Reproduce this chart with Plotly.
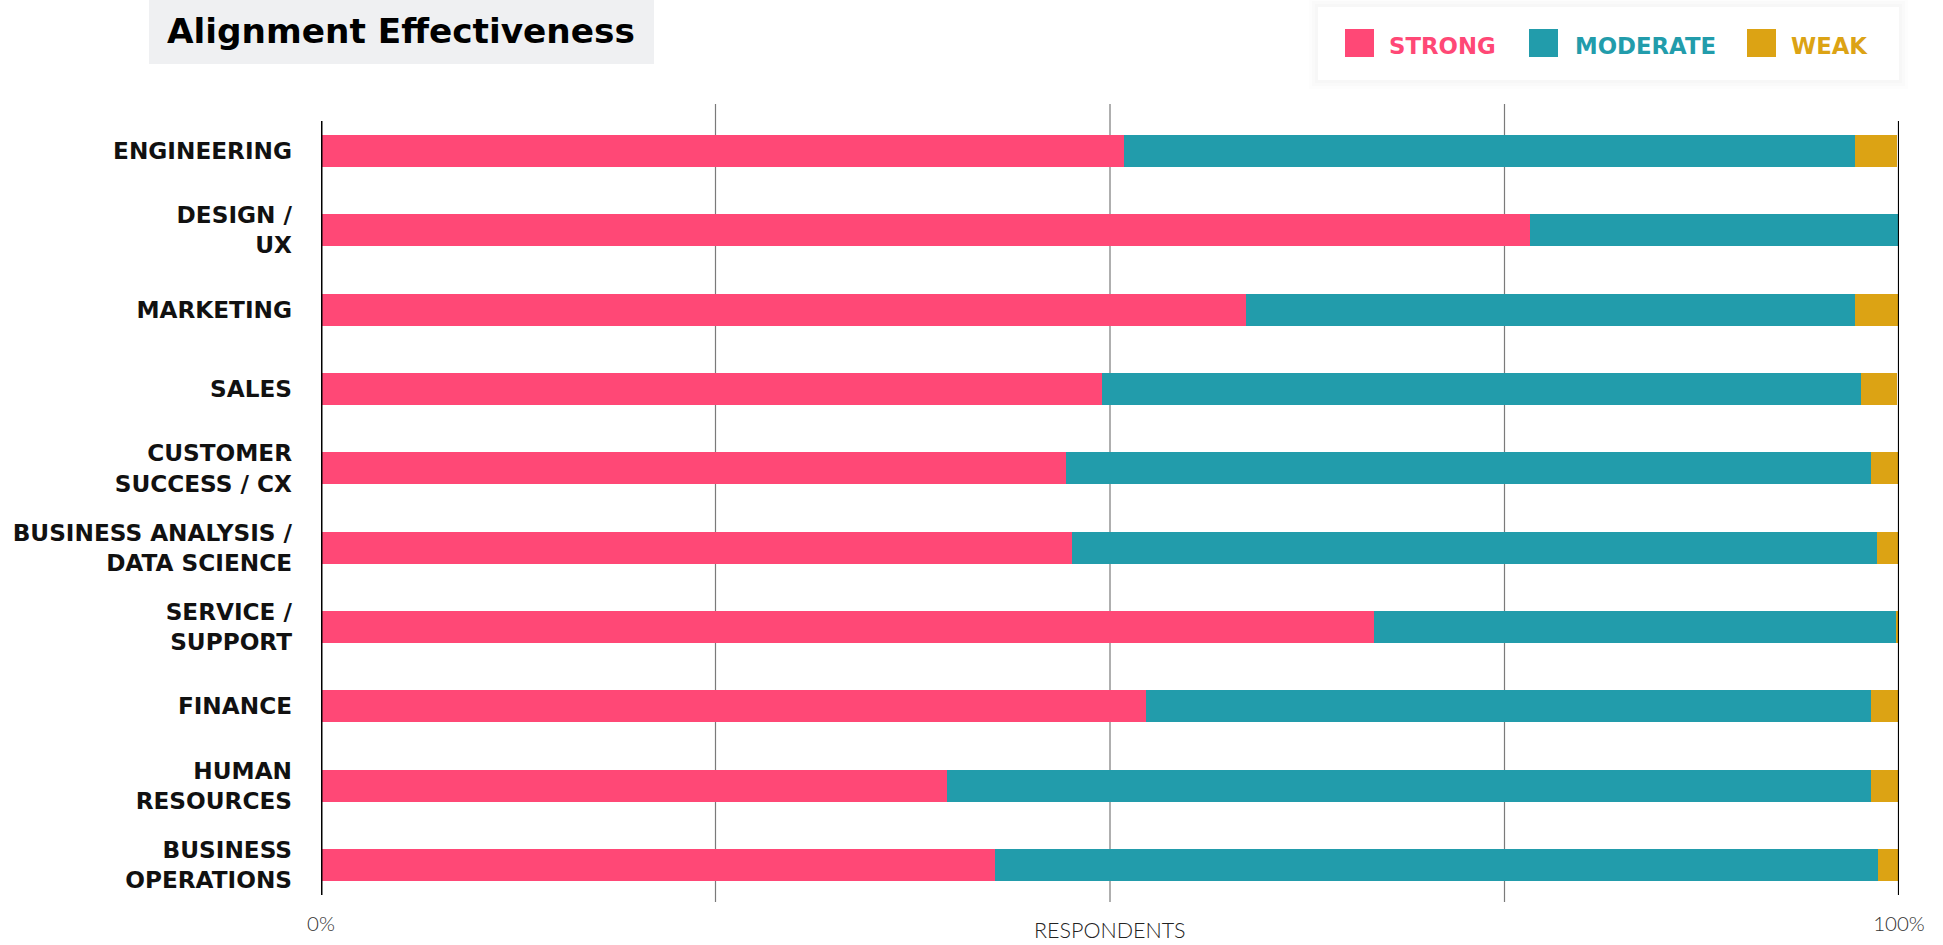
import plotly.graph_objects as go

# ---- data -------------------------------------------------------------
categories = [
    "ENGINEERING",
    "DESIGN /<br>UX",
    "MARKETING",
    "SALES",
    "CUSTOMER<br>SUCCESS / CX",
    "BUSINESS ANALYSIS /<br>DATA SCIENCE",
    "SERVICE /<br>SUPPORT",
    "FINANCE",
    "HUMAN<br>RESOURCES",
    "BUSINESS<br>OPERATIONS",
]
strong = [50.9, 76.6, 58.6, 49.5, 47.2, 47.6, 66.7, 52.3, 39.7, 42.7]
moderate = [46.3, 23.4, 38.6, 48.1, 51.0, 51.0, 33.1, 45.9, 58.5, 56.0]
weak = [2.7, 0.0, 2.8, 2.3, 1.8, 1.4, 0.2, 1.8, 1.8, 1.3]

series_names = ["STRONG", "MODERATE", "WEAK"]
series_values = [strong, moderate, weak]
series_colors = ["#FF4876", "#229CAB", "#DCA314"]

x_tick_vals = [0, 100]
x_tick_text = ["0%", "100%"]
grid_vals = [25, 50, 75]

# ---- page geometry (pixels) -------------------------------------------
W, H = 1943, 945
L, R, T, B = 321, 44, 104, 43
PW, PH = W - L - R, H - T - B


def px_x(x):
    return (x - L) / PW


def px_y(y):
    return (H - B - y) / PH


BOLD = "DejaVu Sans"
LIGHT = "Lato"

fig = go.Figure()
for name, vals, col in zip(series_names, series_values, series_colors):
    fig.add_trace(go.Bar(
        y=categories, x=vals, name=name, orientation="h",
        marker=dict(color=col, line=dict(width=0)),
        width=0.4, showlegend=False,
        hovertemplate="%{y}: %{x}%<extra>" + name + "</extra>",
    ))

shapes = []
# vertical grid lines behind the bars
for g in grid_vals:
    shapes.append(dict(type="line", xref="x", yref="paper", x0=g, x1=g,
                       y0=0, y1=1, line=dict(color="#7a7a7a", width=1.2),
                       layer="below"))
# 0% and 100% boundary lines
for v, w in zip(x_tick_vals, [3, 2.2]):
    shapes.append(dict(type="line", xref="x", yref="paper", x0=v, x1=v,
                       y0=px_y(895), y1=px_y(121),
                       line=dict(color="#000000", width=w), layer="above"))

# title box
shapes.append(dict(type="rect", xref="paper", yref="paper",
                   x0=px_x(149), x1=px_x(654), y0=px_y(64), y1=px_y(0),
                   fillcolor="#EFF0F2", line=dict(width=0), layer="below"))

# legend box with soft shadow
for i, c in enumerate(["#FDFDFD", "#FAFAFA", "#F7F7F7"]):
    d = 9 - 3 * i
    shapes.append(dict(type="rect", xref="paper", yref="paper",
                       x0=px_x(1318 - d), x1=px_x(1899 + d),
                       y0=px_y(80 + d), y1=px_y(max(7 - d, 0)),
                       fillcolor=c, line=dict(width=0), layer="below"))
shapes.append(dict(type="rect", xref="paper", yref="paper",
                   x0=px_x(1318), x1=px_x(1899), y0=px_y(80), y1=px_y(7),
                   fillcolor="#FFFFFF", line=dict(width=0), layer="below"))

annotations = [
    dict(text="<b>Alignment Effectiveness</b>", xref="paper", yref="paper",
         x=px_x(165), y=px_y(31), xanchor="left", yanchor="middle",
         showarrow=False, font=dict(family=BOLD, size=34.3, color="#000000")),
    dict(text="RESPONDENTS", xref="x", yref="paper", x=50, y=px_y(930),
         xanchor="center", yanchor="middle", showarrow=False,
         font=dict(family=LIGHT, size=21.5, color="#222222", weight=300)),
]

# legend entries
sq_left = [1345, 1529, 1747]
txt_left = [1389, 1575, 1791]
for name, col, sx, tx in zip(series_names, series_colors, sq_left, txt_left):
    shapes.append(dict(type="rect", xref="paper", yref="paper",
                       x0=px_x(sx), x1=px_x(sx + 29), y0=px_y(57), y1=px_y(29),
                       fillcolor=col, line=dict(width=0)))
    annotations.append(dict(text="<b>" + name + "</b>", xref="paper", yref="paper",
                            x=px_x(tx - 2), y=px_y(46), xanchor="left",
                            yanchor="middle", showarrow=False,
                            font=dict(family=BOLD, size=22.8, color=col)))

fig.update_layout(
    width=W, height=H, autosize=False,
    margin=dict(l=L, r=R, t=T, b=B, pad=0),
    paper_bgcolor="#FFFFFF", plot_bgcolor="#FFFFFF",
    barmode="stack", bargap=0.6,
    shapes=shapes, annotations=annotations,
    xaxis=dict(range=[0, 100], tickvals=x_tick_vals, ticktext=x_tick_text,
               showgrid=False, zeroline=False, showline=False, ticks="",
               automargin=False, ticklabelstandoff=7,
               tickfont=dict(family=LIGHT, size=20.5, color="#333333", weight=300)),
    yaxis=dict(type="category", categoryorder="array", categoryarray=categories,
               range=[9.466, -0.592], autorange=False, automargin=False,
               showgrid=False, zeroline=False, showline=False, ticks="",
               ticklabelstandoff=28,
               tickfont=dict(family=BOLD, size=23.2, color="#111111", weight="bold")),
)

fig.write_html("out.html")
